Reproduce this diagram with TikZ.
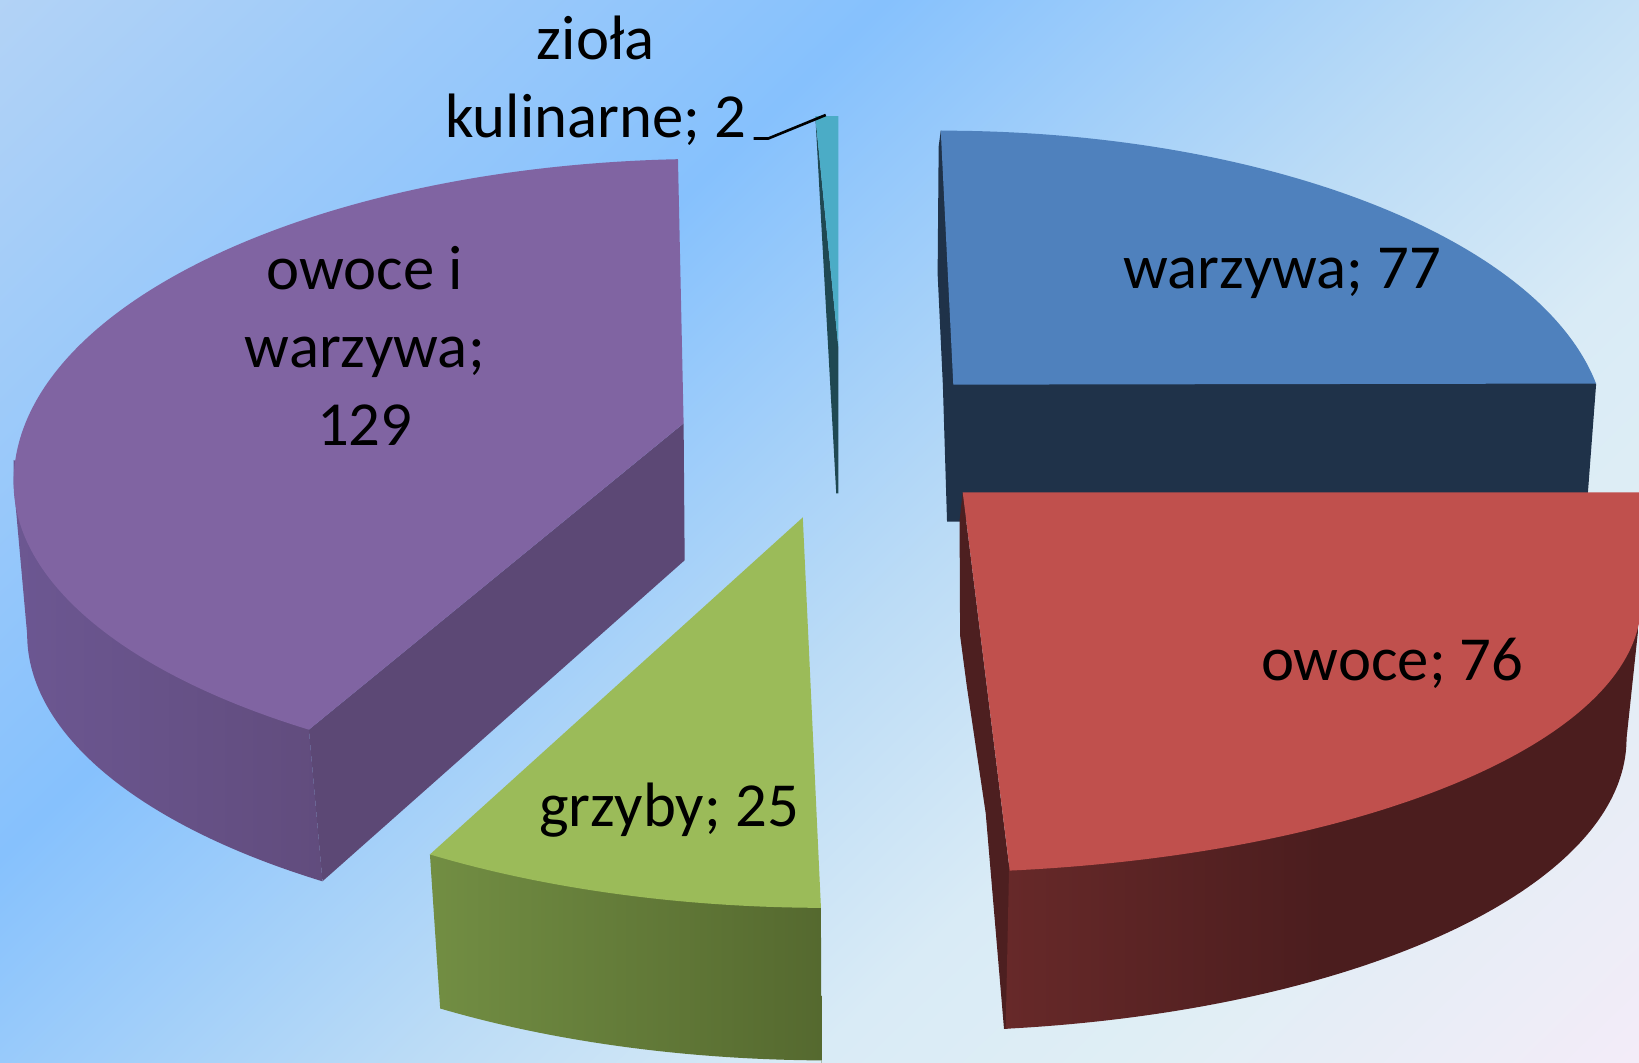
\documentclass[tikz,border=0pt]{standalone}
\usepackage{fontspec}
\setmainfont{Carlito}
\setlength{\tabcolsep}{0pt}
\definecolor{bgA}{HTML}{B3D3F6}
\definecolor{bgB}{HTML}{86C1FD}
\definecolor{bgC}{HTML}{BCDCF6}
\definecolor{bgD}{HTML}{D9EBF6}
\definecolor{bgE}{HTML}{DFEEF5}
\definecolor{bgF}{HTML}{F4ECF8}
\definecolor{pTop}{HTML}{8064A2}
\definecolor{pCut}{HTML}{5C4875}
\definecolor{pSideL}{HTML}{6C5792}
\definecolor{pSideR}{HTML}{614C7D}
\definecolor{gTop}{HTML}{9BBB59}
\definecolor{gSideL}{HTML}{728E43}
\definecolor{gSideR}{HTML}{55692F}
\definecolor{tTop}{HTML}{4BACC6}
\definecolor{tDark}{HTML}{1F4852}
\definecolor{bTop}{HTML}{4F81BD}
\definecolor{bDark}{HTML}{1F3249}
\definecolor{rTop}{HTML}{C0504D}
\definecolor{rStrip}{HTML}{4D1F20}
\definecolor{rSideL}{HTML}{672929}
\definecolor{rSideR}{HTML}{4B1D1E}
\pgfdeclarehorizontalshading{bgshade}{100bp}{color(0bp)=(bgA); color(27bp)=(bgA); color(42bp)=(bgB); color(52.5bp)=(bgC); color(59bp)=(bgD); color(64bp)=(bgE); color(73bp)=(bgF); color(100bp)=(bgF)}
\begin{document}
\begin{tikzpicture}[x=1pt,y=-1pt,
  lbl/.style={anchor=base, inner sep=0pt, font=\fontsize{60}{74.5}\selectfont, text=black},
  leader/.style={line width=2.5pt, draw=black}]
\useasboundingbox (0,0) rectangle (1568,1016);
\begin{scope}
\clip (0,0) rectangle (1568,1016);
% background
\begin{scope}[transform canvas={shift={(784,508)},rotate=-46}]
\shade[shading=bgshade] (-1000,-1000) rectangle (1000,1000);
\end{scope}
% owoce i warzywa (purple)
\shade[left color=pSideL, right color=pSideR] (13,440) -- (13,462) -- (26,607)
  arc[start angle=180, end angle=125.2, x radius=667, y radius=289]
  -- (295.5,698) -- (300,600) -- cycle;
\fill[pCut] (654,405) -- (295.5,698) -- (308.5,843.1) -- (655,536) -- cycle;
\fill[pTop] (654,405) -- (648.6,152.3)
  arc[start angle=267.3, end angle=180, x radius=667, y radius=310]
  arc[start angle=180, end angle=125.2, x radius=667, y radius=289] -- cycle;
% grzyby (green)
\shade[left color=gSideL, right color=gSideR] (411.3,817.4) -- (421.1,964.8)
  arc[start angle=124.1, end angle=90.8, x radius=667, y radius=289]
  -- (786,1030) -- (785.3,868.5) -- (600,800) -- cycle;
\fill[gTop] (768,495) -- (411.3,817.4)
  arc[start angle=124.6, end angle=90.4, x radius=667, y radius=289] -- cycle;
% ziola kulinarne (teal)
\fill[tDark] (780,111) -- (802,332) -- (802,472) -- (800,472) -- cycle;
\fill[tTop] (780,111) -- (802,111) -- (802,332) -- cycle;
% warzywa (blue)
\fill[bDark] (900,125) -- (898,140) -- (897,262) -- (902,368) -- (906,499) -- (1517,499) -- (1527,367) -- cycle;
\fill[bTop] (912,368) -- (900,125)
  arc[start angle=-90, end angle=-10.2, x radius=637, y radius=294] -- cycle;
% owoce (red)
\fill[rStrip] (921,471) -- (918,498) -- (918.5,608) -- (925,657) -- (943,778) -- (960.5,984.2) -- (964,984.2) -- (966,833) -- cycle;
\shade[left color=rSideL, right color=rSideR, middle color=rSideR] (962.1,984.2)
  arc[start angle=82.73, end angle=0, x radius=680, y radius=280]
  -- (1570,576) -- (1570,560) -- (1400,700) -- (1100,790) -- (966,800) -- cycle;
\fill[rTop] (921,471) -- (1570,471) -- (1570,576.2)
  arc[start angle=0, end angle=82.84, x radius=690, y radius=258.7] -- cycle;
\end{scope}
% labels
\node[lbl] (ziola) at (570,57) {\begin{tabular}[t]{c}zioła\\kulinarne; 2\end{tabular}};
\node[lbl] (ow) at (349,277) {\begin{tabular}[t]{c}owoce i\\warzywa;\\129\end{tabular}};
\node[lbl] (war) at (1227,276) {warzywa; 77};
\node[lbl] (owo) at (1332,651) {owoce; 76};
\node[lbl] (grz) at (640,791) {grzyby; 25};
% leader line
\coordinate (zl1) at (721,132.5);
\coordinate (zl2) at (735,132.5);
\coordinate (tealtip) at (790,110);
\draw[leader] (zl1) -- (zl2) -- (tealtip);
\end{tikzpicture}
\end{document}
